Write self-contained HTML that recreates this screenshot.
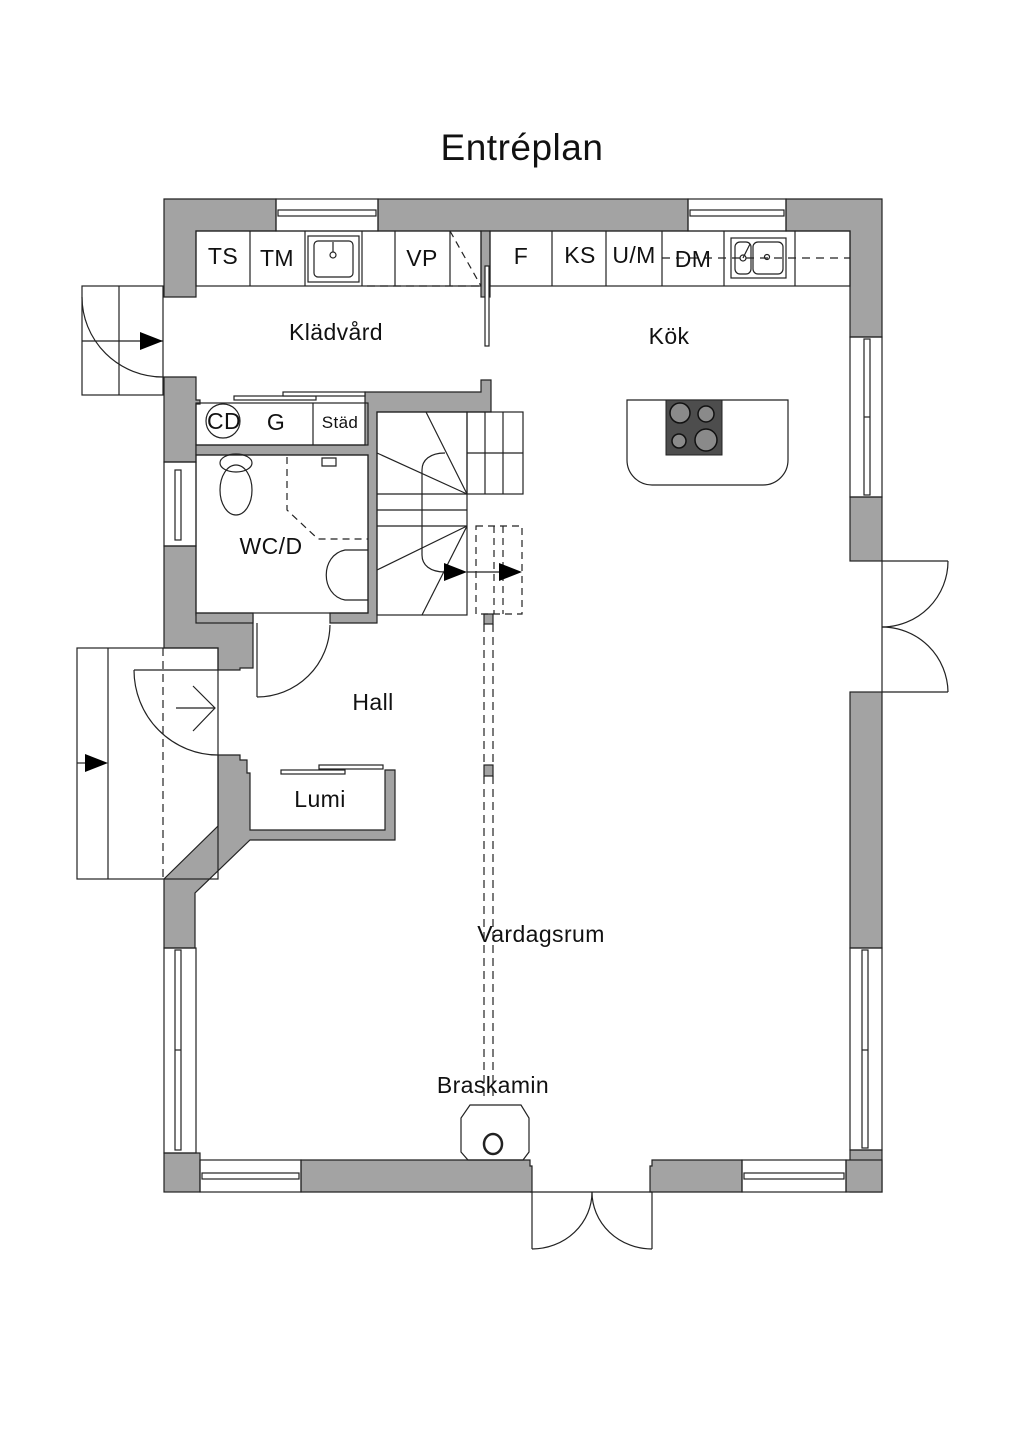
<!DOCTYPE html>
<html><head><meta charset="utf-8"><style>
html,body{margin:0;padding:0;background:#fff;}
svg{display:block;}
text{font-family:"Liberation Sans",sans-serif;fill:#111;}
</style></head><body>
<svg width="1024" height="1448" viewBox="0 0 1024 1448" xmlns="http://www.w3.org/2000/svg">
<rect width="1024" height="1448" fill="#fff"/>
<text x="522" y="160" font-size="37" text-anchor="middle" letter-spacing="0.5">Entréplan</text>
<g fill="#a3a3a3" stroke="#222" stroke-width="1.2">
<polygon points="164,199 276,199 276,231 196,231 196,297 164,297"/>
<rect x="378" y="199" width="310" height="32"/>
<polygon points="786,199 882,199 882,337 850,337 850,231 786,231"/>
<rect x="850" y="497" width="32" height="64"/>
<rect x="850" y="692" width="32" height="256"/>
<rect x="850" y="1150" width="32" height="42"/>
<rect x="164" y="1153" width="36" height="39"/>
<polygon points="301,1160 530,1160 530,1166 532,1166 532,1192 301,1192"/>
<polygon points="652,1160 742,1160 742,1192 650,1192 650,1166 652,1166"/>
<rect x="846" y="1160" width="36" height="32"/>
<polygon points="164,377 196,377 196,400 200,400 200,404 196,404 196,462 164,462"/>
<polygon points="164,546 196,546 196,615 253,615 253,668 240,668 240,670 218,670 218,648 164,648"/>
<polygon points="218,755 240,755 240,760 247,760 247,773 250,773 250,830 385,830 385,770 395,770 395,840 250,840 195,893 195,948 164,948 164,879 218,826"/>
<polygon points="365,392 481,392 481,380 491,380 491,412 377,412 377,623 330,623 330,613 368,613 368,455 196,455 196,445 365,445"/>
<rect x="196" y="613" width="57" height="10"/>
<rect x="481" y="231" width="9" height="66"/>
<rect x="484" y="614" width="9" height="10"/>
<rect x="484" y="765" width="9" height="11"/>
</g>
<g fill="none" stroke="#222" stroke-width="1.2">
<rect x="276" y="199" width="102" height="32"/><rect x="278" y="210" width="98" height="6"/>
<rect x="688" y="199" width="98" height="32"/><rect x="690" y="210" width="94" height="6"/>
<rect x="850" y="337" width="32" height="160"/><rect x="864" y="339" width="6" height="156"/><line x1="864" y1="417" x2="870" y2="417"/>
<rect x="164" y="462" width="32" height="84"/><rect x="175" y="470" width="6" height="70"/>
<rect x="164" y="948" width="32" height="205"/><rect x="175" y="950" width="6" height="200"/><line x1="175" y1="1050" x2="181" y2="1050"/>
<rect x="850" y="948" width="32" height="202"/><rect x="862" y="950" width="6" height="198"/><line x1="862" y1="1050" x2="868" y2="1050"/>
<rect x="200" y="1160" width="101" height="32"/><rect x="202" y="1173" width="97" height="6"/>
<rect x="742" y="1160" width="104" height="32"/><rect x="744" y="1173" width="100" height="6"/>
<rect x="196" y="231" width="285" height="55"/>
<line x1="250" y1="231" x2="250" y2="286"/><line x1="305" y1="231" x2="305" y2="286"/><line x1="362" y1="231" x2="362" y2="286"/>
<line x1="395" y1="231" x2="395" y2="286"/><line x1="450" y1="231" x2="450" y2="286"/>
<rect x="308" y="236" width="51" height="46"/><rect x="314" y="241" width="39" height="36" rx="4"/>
<circle cx="333" cy="255" r="3"/><line x1="333" y1="242" x2="333" y2="252"/>
<line x1="450" y1="231" x2="481" y2="286" stroke-dasharray="7,5"/>
<line x1="367" y1="286" x2="481" y2="286" stroke-dasharray="8,5"/>
<rect x="490" y="231" width="360" height="55"/>
<line x1="552" y1="231" x2="552" y2="286"/><line x1="606" y1="231" x2="606" y2="286"/><line x1="662" y1="231" x2="662" y2="286"/>
<line x1="724" y1="231" x2="724" y2="286"/><line x1="795" y1="231" x2="795" y2="286"/>
<rect x="731" y="238" width="55" height="40"/><rect x="735" y="242" width="16" height="32" rx="5"/><rect x="753" y="242" width="30" height="32" rx="5"/>
<circle cx="743" cy="258" r="3"/><circle cx="767" cy="257" r="2.5"/><line x1="743" y1="258" x2="750" y2="244"/>
<line x1="662" y1="258" x2="850" y2="258" stroke-dasharray="8,6"/>
<rect x="485" y="266" width="4" height="80" fill="#fff"/>
<rect x="196" y="403" width="172" height="42"/>
<line x1="313" y1="403" x2="313" y2="445"/>
<circle cx="223" cy="421" r="17"/>
<rect x="234" y="396" width="82" height="4" fill="#fff"/><rect x="283" y="392" width="82" height="4" fill="#fff"/>
<rect x="196" y="455" width="172" height="158"/>
<ellipse cx="236" cy="463" rx="16" ry="9"/><ellipse cx="236" cy="490" rx="16" ry="25"/>
<path d="M287,457 V510 L318,539 H368" stroke-dasharray="7,5"/>
<path d="M368,550 H345 C320,555 320,595 345,600 H368"/>
<path d="M322,458 h14 v8 h-14z"/>
<rect x="377" y="412" width="90" height="203"/>
<rect x="467" y="412" width="56" height="82"/>
<line x1="467" y1="453" x2="523" y2="453"/>
<line x1="485" y1="412" x2="485" y2="494"/><line x1="503" y1="412" x2="503" y2="494"/>
<line x1="377" y1="494" x2="467" y2="494"/><line x1="377" y1="510" x2="467" y2="510"/><line x1="377" y1="526" x2="467" y2="526"/>
<line x1="377" y1="453" x2="467" y2="494"/><line x1="426" y1="412" x2="467" y2="494"/>
<line x1="377" y1="570" x2="467" y2="526"/><line x1="422" y1="615" x2="467" y2="526"/>
<path d="M445,453 C430,453 422,460 422,470 V555 C422,565 430,572 445,572"/>
<path d="M476,526 H522 V614 H476 Z M494,526 V614 M503,526 V614" stroke-dasharray="7,5"/>
<line x1="467" y1="572" x2="500" y2="572"/>
<line x1="484" y1="624" x2="484" y2="765" stroke-dasharray="8,5"/><line x1="493" y1="624" x2="493" y2="765" stroke-dasharray="8,5"/>
<line x1="484" y1="776" x2="484" y2="1098" stroke-dasharray="8,5"/><line x1="493" y1="776" x2="493" y2="1098" stroke-dasharray="8,5"/>
<path d="M627,400 H788 V460 A25,25 0 0 1 763,485 H652 A25,25 0 0 1 627,460 Z"/>
<polygon points="470,1105 521,1105 529,1118 529,1152 523,1160 468,1160 461,1152 461,1118"/>
<ellipse cx="493" cy="1144" rx="9" ry="10" stroke-width="2.5"/>
<rect x="82" y="286" width="81" height="109"/>
<line x1="119" y1="286" x2="119" y2="395"/><line x1="82" y1="341" x2="163" y2="341"/>
<path d="M82,297 A81,80 0 0 0 163,377" />
<rect x="77" y="648" width="141" height="231"/>
<line x1="108" y1="648" x2="108" y2="879"/>
<line x1="163" y1="648" x2="163" y2="879" stroke-dasharray="8,5"/>
<line x1="134" y1="670" x2="218" y2="670"/>
<path d="M134,670 A84,85 0 0 0 218,755"/>
<line x1="176" y1="708" x2="215" y2="708"/><polyline points="193,686 215,708 193,731"/>
<line x1="77" y1="763" x2="90" y2="763"/>
<line x1="257" y1="623" x2="257" y2="697"/>
<path d="M330,625 A73,73 0 0 1 257,697"/>
<rect x="281" y="770" width="64" height="4" fill="#fff"/><rect x="319" y="765" width="64" height="4" fill="#fff"/>
<line x1="882" y1="561" x2="948" y2="561"/><path d="M948,561 A66,66 0 0 1 882,627"/>
<line x1="882" y1="692" x2="948" y2="692"/><path d="M948,692 A66,66 0 0 0 882,627"/>
<line x1="882" y1="561" x2="882" y2="692"/>
<line x1="530" y1="1192" x2="652" y2="1192"/>
<line x1="532" y1="1192" x2="532" y2="1249"/><path d="M532,1249 A60,57 0 0 0 592,1192"/>
<line x1="652" y1="1192" x2="652" y2="1249"/><path d="M652,1249 A60,57 0 0 1 592,1192"/>
</g>
<rect x="666" y="400" width="56" height="55" fill="#4d4d4d" stroke="#222"/>
<g fill="#8a8a8a" stroke="#111" stroke-width="1.5">
<circle cx="680" cy="413" r="10"/><circle cx="706" cy="414" r="8"/><circle cx="679" cy="441" r="7"/><circle cx="706" cy="440" r="11"/>
</g>
<g fill="#000">
<polygon points="140,332 163,341 140,350"/>
<polygon points="85,754 108,763 85,772"/>
<polygon points="444,563 467,572 444,581"/>
<polygon points="499,563 522,572 499,581"/>
</g>
<g font-size="23" letter-spacing="0.4">
<text x="223" y="264" text-anchor="middle">TS</text>
<text x="277" y="266" text-anchor="middle">TM</text>
<text x="422" y="266" text-anchor="middle">VP</text>
<text x="521" y="264" text-anchor="middle">F</text>
<text x="580" y="263" text-anchor="middle">KS</text>
<text x="634" y="263" text-anchor="middle">U/M</text>
<text x="693" y="267" text-anchor="middle">DM</text>
<text x="336" y="340" text-anchor="middle">Klädvård</text>
<text x="669" y="344" text-anchor="middle">Kök</text>
<text x="224" y="429" text-anchor="middle">CD</text>
<text x="276" y="430" text-anchor="middle">G</text>
<text x="340" y="428" text-anchor="middle" font-size="17">Städ</text>
<text x="271" y="554" text-anchor="middle">WC/D</text>
<text x="373" y="710" text-anchor="middle">Hall</text>
<text x="320" y="807" text-anchor="middle">Lumi</text>
<text x="541" y="942" text-anchor="middle">Vardagsrum</text>
<text x="493" y="1093" text-anchor="middle">Braskamin</text>
</g>
</svg>
</body></html>
